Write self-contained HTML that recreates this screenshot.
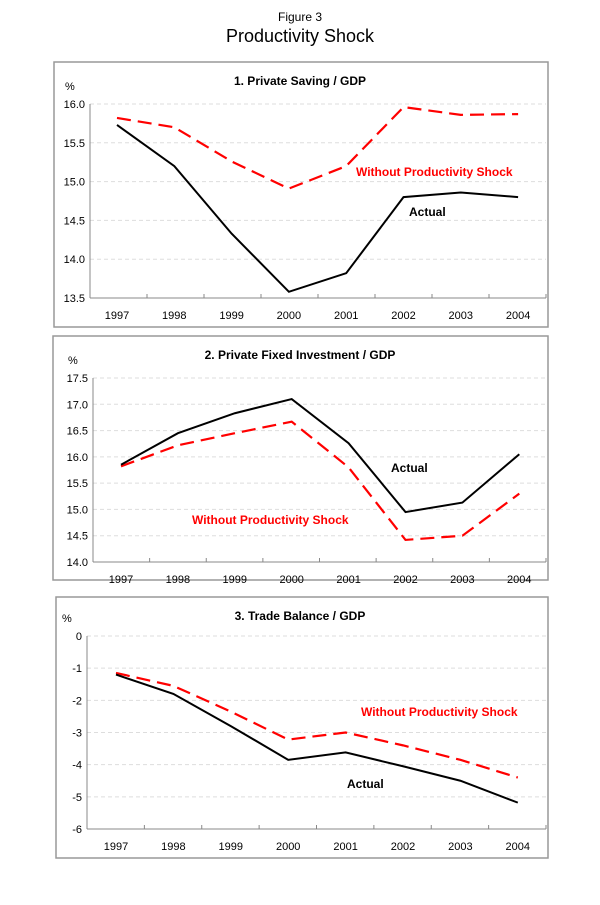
<!DOCTYPE html>
<html><head><meta charset="utf-8"><style>
body{margin:0;background:#fff;width:600px;height:900px;overflow:hidden}
svg{font-family:"Liberation Sans",Arial,sans-serif}
</style></head><body>
<svg id="s" width="600" height="900" xmlns="http://www.w3.org/2000/svg">
<text x="300" y="21" font-size="12" text-anchor="middle">Figure 3</text>
<text x="300" y="42" font-size="18" text-anchor="middle">Productivity Shock</text>
</svg>
<script>
var s=document.getElementById('s'),h='';
var P=[
 {box:[54,62,494,265],title:"1. Private Saving / GDP",ty:85,ax:90,right:546,x0:117,dx:57.3,ytop:104,ybot:298,vmax:16,vmin:13.5,step:0.5,dec:1,
  a:[15.73,15.2,14.33,13.58,13.82,14.8,14.86,14.8],d:[15.82,15.7,15.26,14.91,15.2,15.96,15.86,15.87],
  la:[409,216],ld:[356,176]},
 {box:[53,336,495,244],title:"2. Private Fixed Investment / GDP",ty:359,ax:93,right:546,x0:121,dx:56.9,ytop:378,ybot:562,vmax:17.5,vmin:14,step:0.5,dec:1,
  a:[15.85,16.45,16.83,17.1,16.26,14.95,15.13,16.05],d:[15.82,16.22,16.45,16.67,15.8,14.42,14.5,15.3],
  la:[391,472],ld:[192,524]},
 {box:[56,597,492,261],title:"3. Trade Balance / GDP",ty:620,ax:87,right:546,x0:116,dx:57.4,ytop:636,ybot:829,vmax:0,vmin:-6,step:1,dec:0,
  a:[-1.2,-1.8,-2.8,-3.85,-3.62,-4.05,-4.5,-5.18],d:[-1.15,-1.55,-2.35,-3.22,-3.0,-3.4,-3.85,-4.4],
  la:[347,788],ld:[361,716]}
];
P.forEach(function(p){
 var b=p.box;
 h+='<rect x="'+b[0]+'" y="'+b[1]+'" width="'+b[2]+'" height="'+b[3]+'" fill="none" stroke="#999" stroke-width="1.5"/>';
 h+='<text x="300" y="'+p.ty+'" font-size="12" font-weight="bold" text-anchor="middle">'+p.title+'</text>';
 h+='<text x="'+(p.ax-25)+'" y="'+(p.ytop-14)+'" font-size="11">%</text>';
 var Y=function(v){return p.ytop+(p.vmax-v)/(p.vmax-p.vmin)*(p.ybot-p.ytop)};
 var X=function(i){return p.x0+i*p.dx};
 for(var v=p.vmin;v<=p.vmax+1e-9;v+=p.step){
  var y=Y(v);
  if(Math.abs(v-p.vmin)>1e-9) h+='<line x1="'+p.ax+'" y1="'+y+'" x2="'+p.right+'" y2="'+y+'" stroke="#ddd" stroke-dasharray="4,3"/>';
  h+='<text x="'+(p.ax-5)+'" y="'+(y+4)+'" font-size="11" text-anchor="end">'+v.toFixed(p.dec)+'</text>';
 }
 h+='<line x1="'+p.ax+'" y1="'+p.ytop+'" x2="'+p.ax+'" y2="'+p.ybot+'" stroke="#888"/>';
 h+='<line x1="'+p.ax+'" y1="'+p.ybot+'" x2="'+p.right+'" y2="'+p.ybot+'" stroke="#888"/>';
 for(var i=0;i<8;i++){
  var tx=p.ax+(i+1)*p.dx*((p.right-p.ax)/(8*p.dx));
  h+='<line x1="'+tx+'" y1="'+p.ybot+'" x2="'+tx+'" y2="'+(p.ybot-4)+'" stroke="#888"/>';
  h+='<text x="'+X(i)+'" y="'+(p.ybot+21)+'" font-size="11" text-anchor="middle">'+(1997+i)+'</text>';
 }
 var pa=p.a.map(function(v,i){return X(i)+','+Y(v)}).join(' ');
 var pd=p.d.map(function(v,i){return X(i)+','+Y(v)}).join(' ');
 h+='<polyline points="'+pd+'" fill="none" stroke="#f00" stroke-width="2.2" stroke-dasharray="14,7"/>';
 h+='<polyline points="'+pa+'" fill="none" stroke="#000" stroke-width="2"/>';
 h+='<text x="'+p.la[0]+'" y="'+p.la[1]+'" font-size="12" font-weight="bold">Actual</text>';
 h+='<text x="'+p.ld[0]+'" y="'+p.ld[1]+'" font-size="12" font-weight="bold" fill="#f00">Without Productivity Shock</text>';
});
s.insertAdjacentHTML('beforeend',h);
</script>
</body></html>
